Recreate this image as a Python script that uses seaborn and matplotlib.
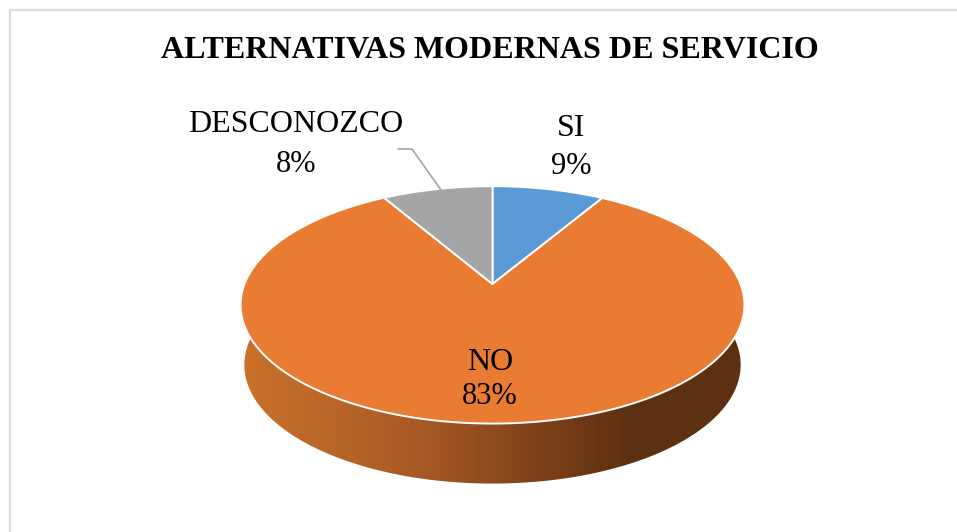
import numpy as np
import seaborn as sns
import matplotlib.pyplot as plt
from matplotlib.patches import Polygon
from matplotlib.transforms import Affine2D
from matplotlib.colors import LinearSegmentedColormap

categories = ["SI", "NO", "DESCONOZCO"]
values = [8.51, 83.09, 8.4]
title = "ALTERNATIVAS MODERNAS DE SERVICIO"

sns.set_theme(style="white")
plt.rcParams['font.family'] = ['Liberation Serif', 'DejaVu Serif']
colors = sns.color_palette(["#5B9BD5", "#EA7B32", "#A5A5A5"])

# pixel layout of the tilted pie
cx, cy = 492.5, 284
k, a, b = 0.176, 248, 115
depth = 60

def tilt(uv, scale=1.0, drop=0):
    # perspective map from the unit circle to the page
    w = 1 + k * uv[:, 1]
    x = cx + scale * a * uv[:, 0] / w
    y = cy - b * uv[:, 1] / w + drop
    return np.column_stack([x, y])

fig = plt.figure(figsize=(9.57, 5.32), dpi=100, facecolor="white")
ax = fig.add_axes([0, 0, 1, 1])

wedges, _ = ax.pie(values, colors=colors, startangle=90, counterclock=False, radius=1)
# flatten at a large scale so the arcs stay smooth
polys = [w.get_path().to_polygons(Affine2D().scale(2000))[0] / 2000 for w in wedges]
for w in wedges:
    w.remove()

ax.set_aspect("auto")
ax.axis("off")

# side wall with gradient
t = np.radians(np.linspace(175, 365, 200))
arc = np.column_stack([np.cos(t), np.sin(t)])
wall = np.vstack([tilt(arc), tilt(arc[::-1], scale=0.985, drop=depth)])
cmap = LinearSegmentedColormap.from_list(
    "wall", [(0, "#CB722B"), (0.35, "#A85A25"), (0.68, "#6E3815"), (0.78, "#5D3011"), (1, "#5D3011")])
grad = ax.imshow(np.linspace(0, 1, 256)[None, :], cmap=cmap, aspect="auto",
                 extent=(240, 745, 490, 300), zorder=1)
ax.set_xlim(0, 957)
ax.set_ylim(532, 0)
clip = Polygon(wall, closed=True, transform=ax.transData, fc="none", ec="none")
ax.add_patch(clip)
grad.set_clip_path(clip)

# top face
for poly, col in zip(polys, colors):
    ax.add_patch(Polygon(tilt(poly), closed=True, fc=col, ec="white", lw=1.4, zorder=2))

# frame of the chart area
ax.plot([10, 10, 957], [532, 9.5, 9.5], color="#DDDDDD", lw=1.6, zorder=0, solid_joinstyle="miter")

ax.text(490, 50, title, ha="center", va="center", fontsize=23, fontweight="bold", color="black")

def pct_label(i, x, y_name, y_pct):
    ax.text(x, y_name, categories[i], ha="center", va="center", fontsize=23, color="black", zorder=3)
    ax.text(x, y_pct, f"{values[i]:.0f}%", ha="center", va="center", fontsize=22, color="black", zorder=3)

pct_label(0, 571, 129, 166)
pct_label(1, 490, 362, 397)
pct_label(2, 296, 125, 164)

# leader for DESCONOZCO
ax.plot([398, 412, 441], [149, 149, 190], color="#A5A5A5", lw=1.2, zorder=3)

fig.savefig("out.png", dpi=100, facecolor="white")
